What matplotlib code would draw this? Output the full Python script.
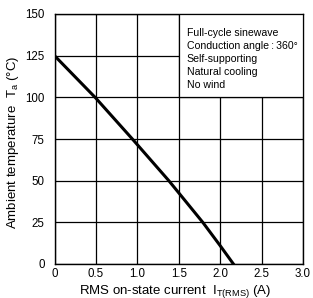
import matplotlib
matplotlib.use("Agg")
import matplotlib.pyplot as plt
from matplotlib.patches import Rectangle

plt.rcParams['font.family'] = ['Liberation Sans', 'DejaVu Sans']

current = [0.0, 0.49, 0.94, 1.38, 1.79, 2.0, 2.16]
temperature = [125, 100, 75, 50, 25, 11, 0]
x_ticks = [0, 0.5, 1.0, 1.5, 2.0, 2.5, 3.0]
x_tick_labels = ["0", "0.5", "1.0", "1.5", "2.0", "2.5", "3.0"]
y_ticks = [0, 25, 50, 75, 100, 125, 150]
notes = ["Full-cycle sinewave", "Conduction angle\u2009:\u2009360°", "Self-supporting",
         "Natural cooling", "No wind"]

W, H = 313, 298
fig = plt.figure(figsize=(W / 100, H / 100), dpi=100)
L, R, T, B = 54.5, 303, 14, 264
ax = fig.add_axes([L / W, 1 - B / H, (R - L) / W, (B - T) / H])
ax.set_xlim(0, 3.0)
ax.set_ylim(0, 150)
ax.set_xticks(x_ticks)
ax.set_xticklabels(x_tick_labels)
ax.set_yticks(y_ticks)
ax.grid(True, color='black', linewidth=0.9)
ax.set_axisbelow(True)
ax.tick_params(axis='both', length=0, labelsize=8.3)
ax.tick_params(axis='y', pad=7)
ax.tick_params(axis='x', pad=3)
for s in ax.spines.values():
    s.set_linewidth(1.0)

ax.plot(current, temperature, color='black', linewidth=2.2, zorder=3,
        solid_joinstyle='round')

ax.add_patch(Rectangle((1.5, 100), 1.5, 50, facecolor='white', edgecolor='black',
                       linewidth=0.9, zorder=4))
for i, t in enumerate(notes):
    ax.text(1.595, 138.6 - i * 7.8, t, fontsize=7.6, va='center', ha='left', zorder=5)

ax.set_xlabel("RMS on-state current  I$_{\\mathregular{T(RMS)}}$ (A)", fontsize=9.5)
ax.set_ylabel("Ambient temperature  T$_{\\mathregular{a}}$ (°C)", fontsize=9.5)
ax.xaxis.set_label_coords((175 - L) / (R - L), -(291 - B) / (B - T))
ax.yaxis.set_label_coords(-(L - 13) / (R - L), (B - 142) / (B - T))
ax.xaxis.label.set_va('center')
ax.yaxis.label.set_va('center')

fig.savefig("out.png", dpi=100)
